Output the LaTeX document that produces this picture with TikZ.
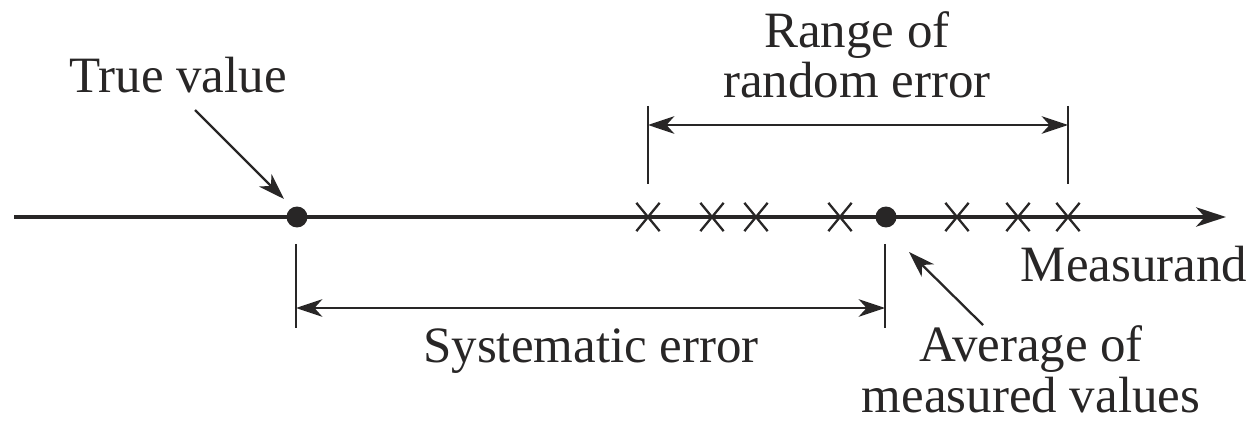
\documentclass[tikz,border=0pt]{standalone}
\usepackage{fontspec}
\setmainfont{Liberation Serif}
\usetikzlibrary{arrows.meta,shapes.misc}
\definecolor{ink}{RGB}{40,38,38}
\begin{document}
\begin{tikzpicture}[x=0.02cm,y=-0.02cm,
  axisline/.style={draw=ink,line width=2.2pt},
  thinline/.style={draw=ink,line width=1.3pt},
  tip/.style={-{Stealth[length=15pt,width=10pt,inset=4.5pt]}},
  bigtip/.style={-{Stealth[length=17pt,width=11pt,inset=5pt]}},
  dtip/.style={{Stealth[length=15pt,width=10pt,inset=4.5pt]}-{Stealth[length=15pt,width=10pt,inset=4.5pt]}},
  dot/.style={circle,fill=ink,minimum size=0.42cm,inner sep=0pt},
  xmark/.style={cross out,draw=ink,line width=1.3pt,minimum width=0.42cm,minimum height=0.52cm,inner sep=0pt},
  lbl/.style={text=ink,font=\fontsize{29}{28.5}\selectfont,align=center,inner sep=0pt}
]
\useasboundingbox (0,0) rectangle (1254,422);
% axis
\coordinate (L) at (14,217);
\coordinate (R) at (1226,217);
\draw[axisline,bigtip] (L) -- (R);
% dots
\node[dot] (true) at (297,217) {};
\node[dot] (avg) at (886,217) {};
% crosses
\node[xmark] (x1) at (648,217) {};
\node[xmark] (x2) at (712,217) {};
\node[xmark] (x3) at (756,217) {};
\node[xmark] (x4) at (840,217) {};
\node[xmark] (x5) at (957,217) {};
\node[xmark] (x6) at (1018,217) {};
\node[xmark] (x7) at (1068,217) {};
% labels (base = baseline of the last line)
\node[lbl,anchor=base] (tv) at (178,93) {True value};
\node[lbl,anchor=base] (rr) at (857,98) {Range of\\random error};
\node[lbl,anchor=base] (ms) at (1134,281) {Measurand};
\node[lbl,anchor=base] (se) at (591,362) {Systematic error};
\node[lbl,anchor=base] (av) at (1031,412) {Average of\\measured values};
% range of random error
\coordinate (ra) at (648,106);
\coordinate (rb) at (648,184);
\coordinate (rc) at (1068,106);
\coordinate (rd) at (1068,184);
\draw[thinline] (ra) -- (rb);
\draw[thinline] (rc) -- (rd);
\coordinate (r1) at (648,125);
\coordinate (r2) at (1068,125);
\draw[thinline,dtip] (r1) -- (r2);
% systematic error
\coordinate (sa) at (296,244);
\coordinate (sb) at (296,328);
\coordinate (sc) at (885,244);
\coordinate (sd) at (885,328);
\draw[thinline] (sa) -- (sb);
\draw[thinline] (sc) -- (sd);
\coordinate (s1) at (296,308);
\coordinate (s2) at (885,308);
\draw[thinline,dtip] (s1) -- (s2);
% pointer arrows
\coordinate (t0) at (195,110);
\coordinate (t1) at (284,199);
\draw[thinline,tip] (t0) -- (t1);
\coordinate (a0) at (983,325);
\coordinate (a1) at (909,252);
\draw[thinline,tip] (a0) -- (a1);
\end{tikzpicture}
\end{document}
